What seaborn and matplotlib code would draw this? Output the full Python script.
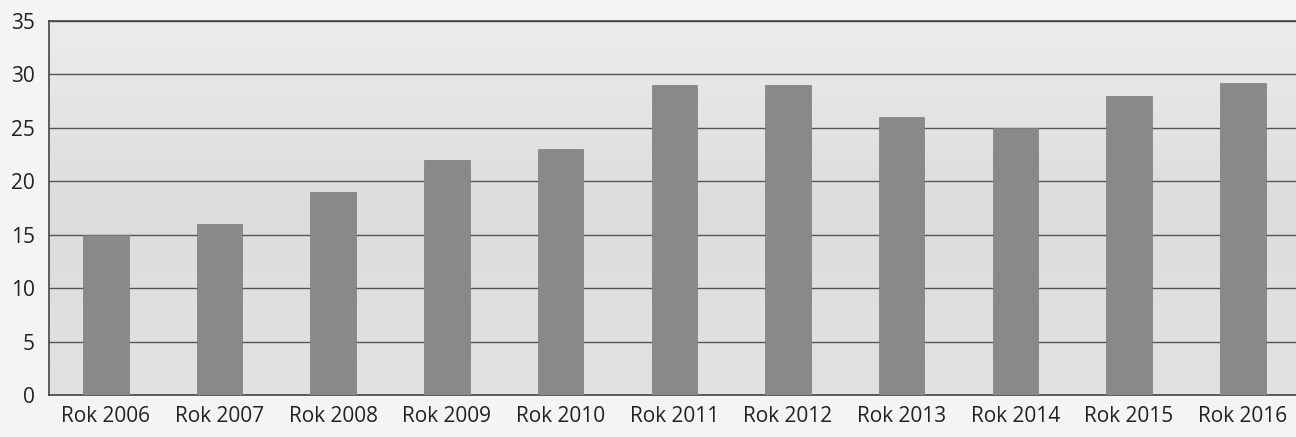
import numpy as np
import pandas as pd
import matplotlib
matplotlib.use("Agg")
import matplotlib.pyplot as plt
import seaborn as sns
from matplotlib.colors import LinearSegmentedColormap

categories = ["Rok 2006", "Rok 2007", "Rok 2008", "Rok 2009", "Rok 2010", "Rok 2011",
              "Rok 2012", "Rok 2013", "Rok 2014", "Rok 2015", "Rok 2016"]
values = [15, 16, 19, 22, 23, 29, 29, 26, 25, 28, 29.2]
yticks = [0, 5, 10, 15, 20, 25, 30, 35]

sns.set_theme(style="white")
plt.rcParams["font.family"] = ["Open Sans", "DejaVu Sans"]

fig = plt.figure(figsize=(12.96, 4.37), dpi=100)
fig.patch.set_facecolor("#f4f4f2")
ax = fig.add_axes([0.0378, 0.096, 0.965, 0.856])

df = pd.DataFrame({"cat": categories, "val": values})
sns.barplot(data=df, x="cat", y="val", color="#898989", width=0.4, saturation=1,
            ax=ax, zorder=3, edgecolor="#7d7d7d", linewidth=0.5)

# background gradient
grad = np.linspace(0, 1, 256).reshape(-1, 1)
cmap = LinearSegmentedColormap.from_list("bg", ["#ececec", "#dcdcdc", "#e2e2e2"])
ax.imshow(grad, aspect="auto", cmap=cmap, extent=[0, 1, 0, 1],
          transform=ax.transAxes, zorder=0)

ax.set_xlim(-0.5, len(categories) - 0.5)
ax.set_ylim(0, 35)
ax.set_yticks(yticks)
ax.set_yticklabels([str(t) for t in yticks])
ax.yaxis.grid(True, color="#555555", linewidth=1.0, zorder=1)
for line in ax.get_ygridlines():
    line.set_zorder(1)

ax.set_xlabel("")
ax.set_ylabel("")
ax.tick_params(axis="x", which="major", length=0, labelsize=15, colors="#222222", pad=8)
ax.tick_params(axis="y", which="major", length=6, width=1, color="#555555",
               labelsize=15, labelcolor="#222222", pad=4)
ax.set_xticks(np.arange(-0.5, len(categories) + 0.5, 1.0), minor=True)
ax.tick_params(axis="x", which="minor", length=5, width=1, color="#555555")

for s in ["left", "bottom", "top"]:
    ax.spines[s].set_visible(True)
    ax.spines[s].set_color("#444444")
    ax.spines[s].set_linewidth(1.2)
ax.spines["right"].set_visible(False)

fig.savefig("out.png", dpi=100, facecolor=fig.get_facecolor())
